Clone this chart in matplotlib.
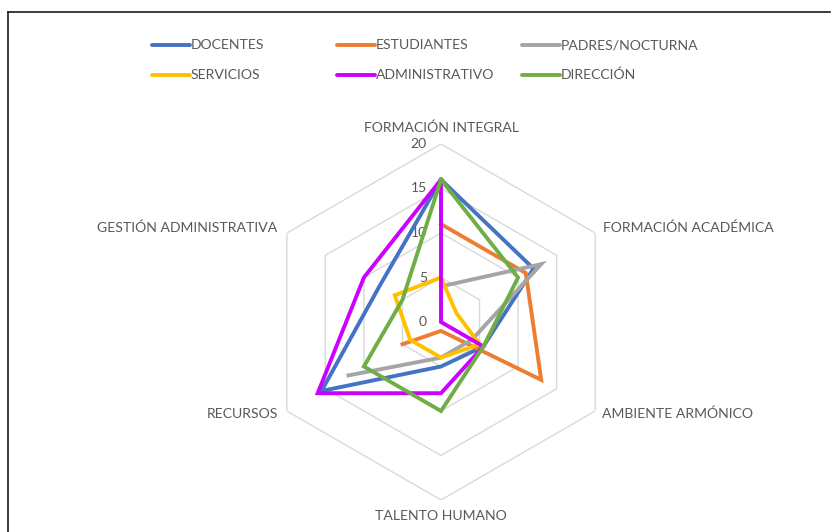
import numpy as np
import matplotlib.pyplot as plt
from matplotlib.lines import Line2D

# axes (clockwise from top)
categories = ['FORMACIÓN INTEGRAL', 'FORMACIÓN ACADÉMICA', 'AMBIENTE ARMÓNICO',
              'TALENTO HUMANO', 'RECURSOS', 'GESTIÓN ADMINISTRATIVA']

series_names = ['DOCENTES', 'ESTUDIANTES', 'PADRES/NOCTURNA',
                'SERVICIOS', 'ADMINISTRATIVO', 'DIRECCIÓN']
docentes = [16, 12, 5.5, 5, 15.5, 8]
estudiantes = [11, 11, 13, 1, 5, np.nan]
padres = [4, 13, 4, 4, 12, np.nan]
servicios = [5, 2, 5, 4, 4, 6]
administrativo = [16, 0, 5.5, 8, 16, 10]
direccion = [16, 10, 5.5, 10, 10, 5]
series = [docentes, estudiantes, padres, servicios, administrativo, direccion]
colors = ['#4472C4', '#ED7D31', '#A5A5A5', '#FFC000', '#CC00FF', '#70AD47']

ticks = [0, 5, 10, 15, 20]

plt.rcParams['font.family'] = ['Lato', 'DejaVu Sans']
txt_color = '#595959'
fs = 10.1

fig = plt.figure(figsize=(8.31, 5.32), dpi=100)
W, H = 831, 532
cx, cy, R = 441, 322, 178
ax = fig.add_axes([(cx - R) / W, (H - cy - R) / H, 2 * R / W, 2 * R / H], projection='polar')
ax.set_theta_offset(np.pi / 2)
ax.set_theta_direction(-1)
ax.set_ylim(0, 20)
ax.grid(False)
ax.spines['polar'].set_visible(False)
ax.set_xticks([])
ax.set_yticks([])
ax.patch.set_alpha(0)

n = len(categories)
angles = np.arange(n) * 2 * np.pi / n
closed = np.append(angles, angles[0])

# hexagonal grid rings
for t in ticks[1:]:
    ax.plot(closed, [t] * (n + 1), color='#D9D9D9', lw=1.0, zorder=1)

for vals, col in zip(series, colors):
    v = np.append(vals, vals[0])
    ax.plot(closed, v, color=col, lw=2.8, solid_joinstyle='miter', zorder=3)

# value labels
for t in ticks:
    ax.annotate(str(t), xy=(0, t), xytext=(-14, 0), textcoords='offset pixels',
                ha='right', va='center', color=txt_color, fontsize=fs, zorder=2)

# category labels
offsets = [((0, 10), 'center', 'bottom'), ((8, 5), 'left', 'center'),
           ((7, -3), 'left', 'center'), ((0, -10), 'center', 'top'),
           ((-9, -3), 'right', 'center'), ((-10, 5), 'right', 'center')]
for ang, cat, (off, ha, va) in zip(angles, categories, offsets):
    ax.annotate(cat, xy=(ang, 20), xytext=off, textcoords='offset pixels',
                ha=ha, va=va, color=txt_color, fontsize=fs, annotation_clip=False)

# legend
col_x = [152, 337, 522]
row_y = [45, 75]
for i, (name, col) in enumerate(zip(series_names, colors)):
    x0 = col_x[i % 3]
    y0 = 1 - row_y[i // 3] / H
    fig.add_artist(Line2D([x0 / W, (x0 + 38) / W], [y0, y0], color=col, lw=2.8,
                          solid_capstyle='round'))
    fig.text((x0 + 39) / W, y0, name, ha='left', va='center', color=txt_color, fontsize=fs)

# chart border (top and left edges visible)
fig.add_artist(Line2D([8 / W, 830 / W], [1 - 11.5 / H, 1 - 11.5 / H], color='#1a1a1a', lw=1.2))
fig.add_artist(Line2D([8 / W, 8 / W], [1 - 11.5 / H, 0], color='#1a1a1a', lw=1.2))

fig.savefig('out.png', dpi=100)
